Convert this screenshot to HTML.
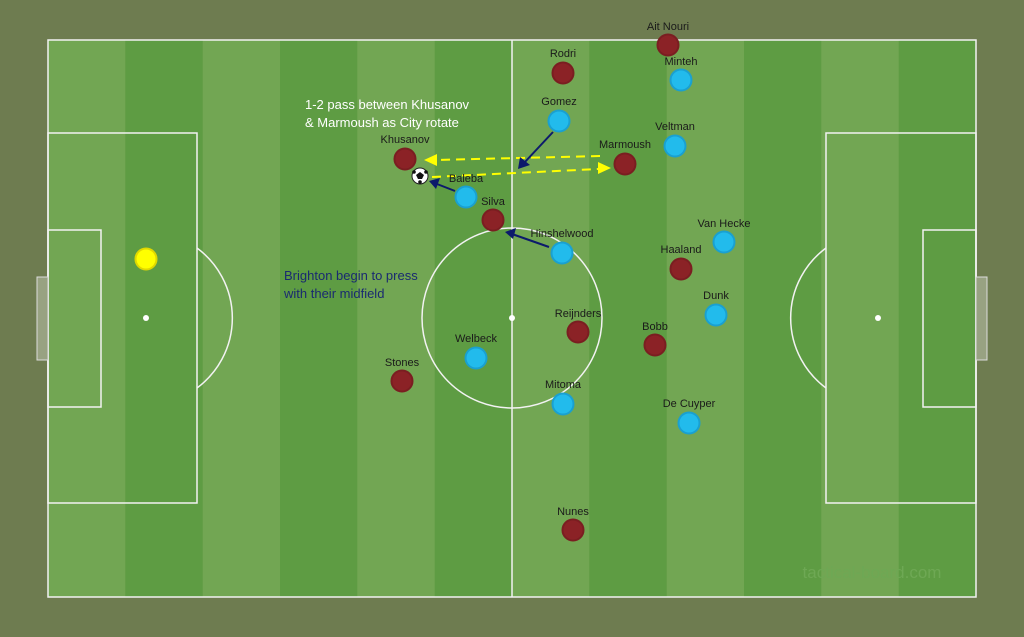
<!DOCTYPE html>
<html><head><meta charset="utf-8"><style>
html,body{margin:0;padding:0;background:#6e7c50;}
svg{display:block;}
text{font-family:"Liberation Sans",sans-serif;}
</style></head><body>
<svg width="1024" height="637" viewBox="0 0 1024 637" xmlns="http://www.w3.org/2000/svg">
<rect width="1024" height="637" fill="#6e7c50"/>
<g>
<rect x="48" y="40" width="928" height="557" fill="#72a653"/>
<rect x="125.3" y="40" width="77.4" height="557" fill="#5e9c43"/>
<rect x="280" y="40" width="77.3" height="557" fill="#5e9c43"/>
<rect x="434.7" y="40" width="77.3" height="557" fill="#5e9c43"/>
<rect x="589.3" y="40" width="77.4" height="557" fill="#5e9c43"/>
<rect x="744" y="40" width="77.3" height="557" fill="#5e9c43"/>
<rect x="898.7" y="40" width="77.3" height="557" fill="#5e9c43"/>
</g>
<g fill="none" stroke="#f2f2f2" stroke-width="1.5">
<rect x="48" y="40" width="928" height="557"/>
<line x1="512" y1="40" x2="512" y2="597"/>
<circle cx="512" cy="318" r="90"/>
<rect x="48" y="133" width="149" height="370"/>
<rect x="48" y="230" width="53" height="177"/>
<rect x="826" y="133" width="150" height="370"/>
<rect x="923" y="230" width="53" height="177"/>
<path d="M197 248 A87 87 0 0 1 197 388"/>
<path d="M826 248 A87 87 0 0 0 826 388"/>
</g>
<rect x="37" y="277" width="11" height="83" fill="#98a282" stroke="#dcdcdc" stroke-width="1"/>
<rect x="976" y="277" width="11" height="83" fill="#98a282" stroke="#dcdcdc" stroke-width="1"/>
<circle cx="146" cy="318" r="3" fill="#fff"/>
<circle cx="878" cy="318" r="3" fill="#fff"/>
<circle cx="512" cy="318" r="3" fill="#fff"/>
<text x="872" y="578" font-size="17" fill="#6ea854" text-anchor="middle">tactical-board.com</text>
<circle cx="146" cy="259" r="10.5" fill="#ffff00" stroke="#e0d800" stroke-width="2"/>
<g stroke="#ffff00" stroke-width="2" stroke-dasharray="9,6" fill="none">
<line x1="600" y1="156" x2="436" y2="160"/>
<line x1="432" y1="177" x2="598" y2="169"/>
</g>
<polygon points="424,160 437,154 437,166" fill="#ffff00"/>
<polygon points="611,168 598,162 598,174" fill="#ffff00"/>
<g stroke="#0c1a6b" stroke-width="2">
<line x1="553" y1="132" x2="524" y2="163"/>
<line x1="455" y1="191" x2="437" y2="184"/>
<line x1="549" y1="247" x2="512" y2="234"/>
</g>
<g fill="#0c1a6b">
<polygon points="518,169 520,157 530,165"/>
<polygon points="429,181 440,178 436,189"/>
<polygon points="505,232 516,228 513,239"/>
</g>
<g stroke-width="2">
<g fill="#8b2226" stroke="#7a1e21">
<circle cx="668" cy="45" r="10.5"/>
<circle cx="563" cy="73" r="10.5"/>
<circle cx="405" cy="159" r="10.5"/>
<circle cx="625" cy="164" r="10.5"/>
<circle cx="493" cy="220" r="10.5"/>
<circle cx="681" cy="269" r="10.5"/>
<circle cx="578" cy="332" r="10.5"/>
<circle cx="655" cy="345" r="10.5"/>
<circle cx="402" cy="381" r="10.5"/>
<circle cx="573" cy="530" r="10.5"/>
</g>
<g fill="#22bbec" stroke="#1aa0d0">
<circle cx="681" cy="80" r="10.5"/>
<circle cx="559" cy="121" r="10.5"/>
<circle cx="675" cy="146" r="10.5"/>
<circle cx="466" cy="197" r="10.5"/>
<circle cx="562" cy="253" r="10.5"/>
<circle cx="724" cy="242" r="10.5"/>
<circle cx="716" cy="315" r="10.5"/>
<circle cx="476" cy="358" r="10.5"/>
<circle cx="563" cy="404" r="10.5"/>
<circle cx="689" cy="423" r="10.5"/>
</g>
</g>
<circle cx="420" cy="176" r="8" fill="#fff" stroke="#222" stroke-width="1"/>
<polygon points="420,172 424,175 422,179 418,179 416,175" fill="#111"/>
<circle cx="414" cy="172" r="1.8" fill="#111"/><circle cx="426" cy="172" r="1.8" fill="#111"/><circle cx="420" cy="182" r="1.8" fill="#111"/>
<g font-size="11" fill="#1a1a1a" text-anchor="middle">
<text x="668" y="30">Ait Nouri</text>
<text x="563" y="57">Rodri</text>
<text x="405" y="143">Khusanov</text>
<text x="625" y="148">Marmoush</text>
<text x="493" y="205">Silva</text>
<text x="681" y="253">Haaland</text>
<text x="578" y="317">Reijnders</text>
<text x="655" y="330">Bobb</text>
<text x="402" y="366">Stones</text>
<text x="573" y="515">Nunes</text>
<text x="681" y="65">Minteh</text>
<text x="559" y="105">Gomez</text>
<text x="675" y="130">Veltman</text>
<text x="466" y="182">Baleba</text>
<text x="562" y="237">Hinshelwood</text>
<text x="724" y="227">Van Hecke</text>
<text x="716" y="299">Dunk</text>
<text x="476" y="342">Welbeck</text>
<text x="563" y="388">Mitoma</text>
<text x="689" y="407">De Cuyper</text>
</g>
<g font-size="13" fill="#ffffff">
<text x="305" y="109">1-2 pass between Khusanov</text>
<text x="305" y="127">&amp; Marmoush as City rotate</text>
</g>
<g font-size="13" fill="#1a2a70">
<text x="284" y="280">Brighton begin to press</text>
<text x="284" y="298">with their midfield</text>
</g>
</svg>
</body></html>
